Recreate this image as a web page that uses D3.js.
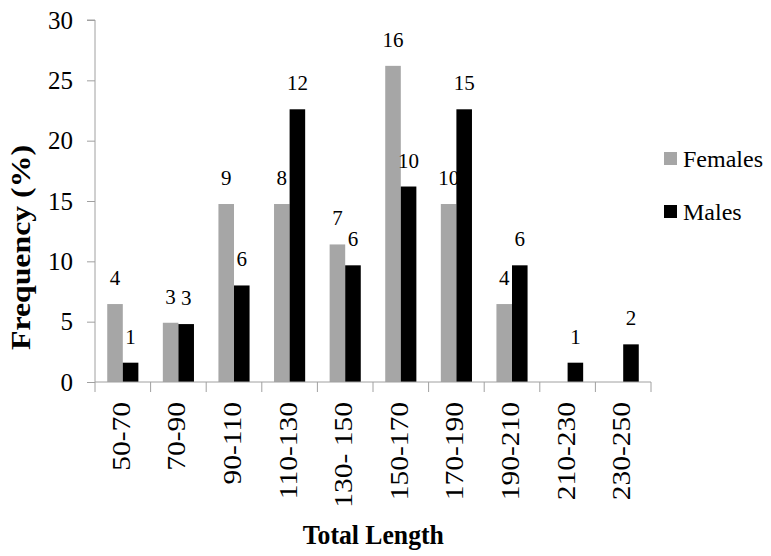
<!DOCTYPE html>
<html>
<head>
<meta charset="utf-8">
<script src="https://cdn.jsdelivr.net/npm/d3@7/dist/d3.min.js"></script>
</head>
<body style="margin:0">
<svg id="chart" width="771" height="556"></svg>
<script>
// ---- data ----
const categories = ["50-70", "70-90", "90-110", "110-130", "130- 150", "150-170", "170-190", "190-210", "210-230", "230-250"];
const seriesNames = ["Females", "Males"];
const femalesPct = [6.46, 4.91, 14.75, 14.75, 11.4, 26.2, 14.75, 6.46, 0, 0];
const malesPct   = [1.6, 4.8, 8.0, 22.6, 9.67, 16.2, 22.6, 9.67, 1.6, 3.12];
const femalesCount = ["4", "3", "9", "8", "7", "16", "10", "4", "", ""];
const malesCount   = ["1", "3", "6", "12", "6", "10", "15", "6", "1", "2"];
const yTicks = [0, 5, 10, 15, 20, 25, 30];

const colors = { Females: "#a6a6a6", Males: "#000000" };
const axisColor = "#a0a0a0";
const FONT = "'Liberation Serif', 'Times New Roman', Tinos, FreeSerif, serif";

const svg = d3.select("#chart").style("font-family", FONT);
const plotLeft = 95, plotRight = 651, plotTop = 20, plotBottom = 382;

const x0 = d3.scaleBand().domain(categories).range([plotLeft, plotRight]).paddingInner(0.44).paddingOuter(0.22);
const x1 = d3.scaleBand().domain(seriesNames).range([0, x0.bandwidth()]);
const y = d3.scaleLinear().domain([0, 30]).range([plotBottom, plotTop]);

const rows = categories.map((c, i) => ({
  cat: c,
  vals: [
    { s: "Females", v: femalesPct[i], lab: femalesCount[i] },
    { s: "Males", v: malesPct[i], lab: malesCount[i] }
  ]
}));

// y axis
const yAxis = d3.axisLeft(y).tickValues(yTicks).tickSize(8).tickPadding(14).tickFormat(d3.format("d"));
const gy = svg.append("g").attr("transform", `translate(${plotLeft},0)`).call(yAxis);
gy.attr("font-family", null).attr("font-size", null);
gy.select(".domain").attr("stroke", axisColor).attr("d", `M-8,${plotTop}H0V${plotBottom}`);
gy.selectAll(".tick line").attr("stroke", axisColor);
gy.selectAll(".tick text").attr("font-size", 25).style("font-family", FONT).attr("fill", "#000");

// bars
const groups = svg.append("g").selectAll("g").data(rows).join("g")
  .attr("transform", d => `translate(${x0(d.cat)},0)`);
groups.selectAll("rect").data(d => d.vals.filter(v => v.v > 0)).join("rect")
  .attr("x", d => x1(d.s))
  .attr("width", x1.bandwidth())
  .attr("y", d => y(d.v))
  .attr("height", d => y(0) - y(d.v))
  .attr("fill", d => colors[d.s]);
groups.selectAll("text").data(d => d.vals.filter(v => v.lab !== "")).join("text")
  .attr("x", d => x1(d.s) + x1.bandwidth() / 2)
  .attr("y", d => y(d.v) - 19)
  .attr("text-anchor", "middle")
  .attr("font-size", 21)
  .style("font-family", FONT)
  .text(d => d.lab);

// x axis
const step = x0.step();
const boundaries = d3.range(categories.length + 1).map(i => plotLeft + i * step);
const gx = svg.append("g");
gx.append("path").attr("d", `M${plotLeft},${plotBottom}H${plotRight}`).attr("stroke", axisColor).attr("fill", "none");
gx.selectAll("line").data(boundaries).join("line")
  .attr("x1", d => d).attr("x2", d => d).attr("y1", plotBottom).attr("y2", plotBottom + 10)
  .attr("stroke", axisColor);
gx.selectAll("text").data(categories).join("text")
  .attr("transform", d => `translate(${x0(d) + x0.bandwidth() / 2 + 7},402) rotate(-90) scale(1.18,1)`)
  .attr("text-anchor", "end")
  .attr("font-size", 25)
  .style("font-family", FONT)
  .text(d => d);

// axis titles
svg.append("text")
  .attr("transform", "translate(30,247.5) rotate(-90)")
  .attr("text-anchor", "middle")
  .attr("font-size", 27).attr("font-weight", "bold")
  .style("font-family", FONT)
  .attr("textLength", 205).attr("lengthAdjust", "spacingAndGlyphs")
  .text("Frequency (%)");
svg.append("text")
  .attr("x", 373.3).attr("y", 544)
  .attr("text-anchor", "middle")
  .attr("font-size", 27).attr("font-weight", "bold")
  .style("font-family", FONT)
  .attr("textLength", 141).attr("lengthAdjust", "spacingAndGlyphs")
  .text("Total Length");

// legend
const legend = svg.append("g").selectAll("g").data(seriesNames).join("g")
  .attr("transform", (d, i) => `translate(664,${152 + i * 53})`);
legend.append("rect").attr("width", 13).attr("height", 13).attr("fill", d => colors[d]);
legend.append("text").attr("x", 19).attr("y", 14.5)
  .attr("font-size", 24).style("font-family", FONT).text(d => d);
</script>
</body>
</html>
